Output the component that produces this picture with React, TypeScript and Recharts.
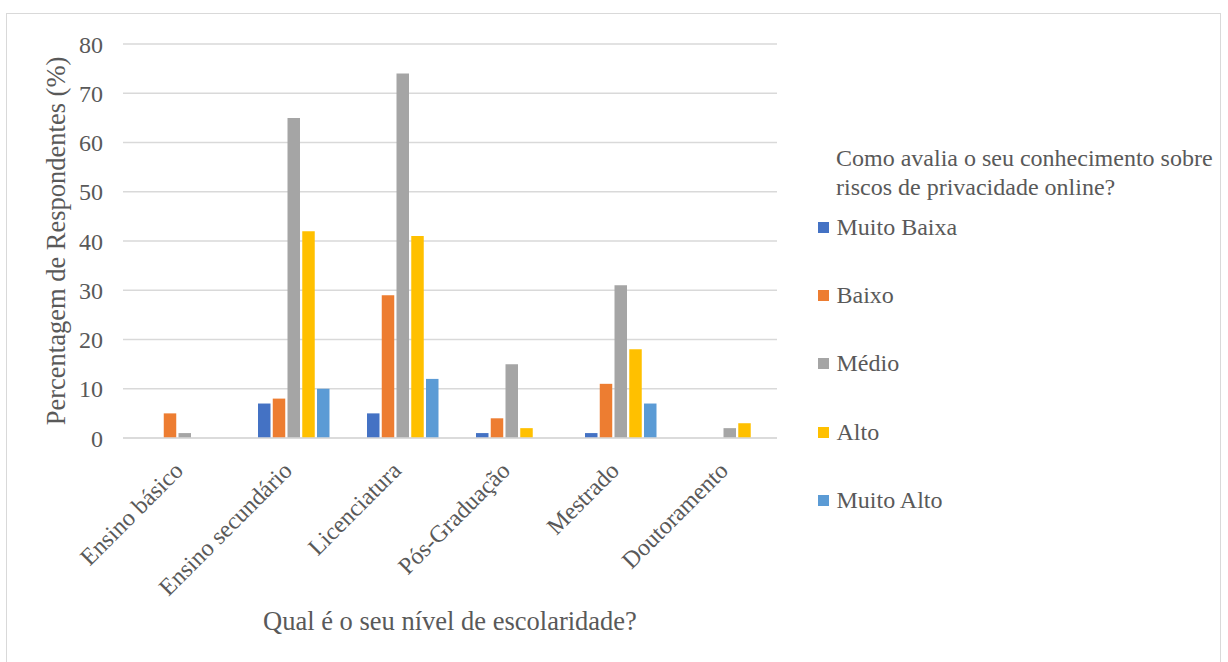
import React from 'react';
import { BarChart, Bar, XAxis, YAxis, CartesianGrid, Legend, Label } from 'recharts';

const CATEGORIES = ['Ensino básico', 'Ensino secundário', 'Licenciatura', 'Pós-Graduação', 'Mestrado', 'Doutoramento'];
const SERIES = ['Muito Baixa', 'Baixo', 'Médio', 'Alto', 'Muito Alto'];
const COLORS = ['#4472C4', '#ED7D31', '#A5A5A5', '#FFC000', '#5B9BD5'];

const MUITO_BAIXA = [0, 7, 5, 1, 1, 0];
const BAIXO = [5, 8, 29, 4, 11, 0];
const MEDIO = [1, 65, 74, 15, 31, 2];
const ALTO = [0, 42, 41, 2, 18, 3];
const MUITO_ALTO = [0, 10, 12, 0, 7, 0];

const Y_TICKS = [0, 10, 20, 30, 40, 50, 60, 70, 80];
const LEGEND_TITLE = ['Como avalia o seu conhecimento sobre', 'riscos de privacidade online?'];
const X_TITLE = 'Qual é o seu nível de escolaridade?';
const Y_TITLE = 'Percentagem de Respondentes (%)';

const VALUES = [MUITO_BAIXA, BAIXO, MEDIO, ALTO, MUITO_ALTO];
const data = CATEGORIES.map((name, i) => {
  const row: Record<string, string | number> = { name };
  SERIES.forEach((s, j) => {
    row[s] = VALUES[j][i];
  });
  return row;
});

const FONT = '"Liberation Serif", "Times New Roman", serif';
const TEXT = '#595959';
const GRID = '#d9d9d9';

const XTick = (props: any) => {
  const { x, y, payload } = props;
  const tx = x;
  const ty = y + 26;
  return (
    <text
      x={tx}
      y={ty}
      transform={`rotate(-45 ${tx} ${ty})`}
      textAnchor="end"
      fill={TEXT}
      fontFamily={FONT}
      fontSize={24}
    >
      {payload.value}
    </text>
  );
};

const LegendBox = () => (
  <div style={{ fontFamily: FONT, color: TEXT, fontSize: 24, lineHeight: '29px' }}>
    <div style={{ paddingLeft: 18, whiteSpace: 'nowrap' }}>
      {LEGEND_TITLE.map((l) => (
        <div key={l}>{l}</div>
      ))}
    </div>
    {SERIES.map((s, i) => (
      <div
        key={s}
        style={{ display: 'flex', alignItems: 'center', marginTop: i === 0 ? 11 : 39.4, height: 29 }}
      >
        <span style={{ width: 11, height: 11, background: COLORS[i], marginRight: 7.5, display: 'inline-block' }} />
        <span>{s}</span>
      </div>
    ))}
  </div>
);

export default function App() {
  return (
    <div
      style={{
        position: 'absolute',
        left: 6,
        top: 13,
        width: 1213,
        height: 660,
        border: `1px solid ${GRID}`,
        background: '#fff',
      }}
    >
      <BarChart
        width={1213}
        height={650}
        data={data}
        margin={{ top: 30, right: 443, left: 0, bottom: 0 }}
        barSize={12.5}
        barGap={2.25}
      >
        <CartesianGrid vertical={false} stroke={GRID} strokeWidth={1.3} />
        <XAxis
          dataKey="name"
          height={226}
          padding={{ left: 7, right: -7 }}
          axisLine={{ stroke: GRID, strokeWidth: 1.5 }}
          tickLine={false}
          interval={0}
          tick={<XTick />}
        >
          <Label
            content={(p: any) => {
              const vb = p.viewBox;
              return (
                <text
                  x={vb.x + vb.width / 2}
                  y={607}
                  textAnchor="middle"
                  dominantBaseline="central"
                  fill={TEXT}
                  fontFamily={FONT}
                  fontSize={26.5}
                >
                  {X_TITLE}
                </text>
              );
            }}
          />
        </XAxis>
        <YAxis
          width={116}
          domain={[0, 80]}
          ticks={Y_TICKS}
          axisLine={false}
          tickLine={false}
          tickSize={0}
          tickMargin={20}
          tick={{ fill: TEXT, fontFamily: FONT, fontSize: 24 }}
        >
          <Label
            content={(p: any) => {
              const vb = p.viewBox;
              const cx = 49;
              const cy = vb.y + vb.height / 2;
              return (
                <text
                  x={cx}
                  y={cy}
                  transform={`rotate(-90 ${cx} ${cy})`}
                  textAnchor="middle"
                  dominantBaseline="central"
                  fill={TEXT}
                  fontFamily={FONT}
                  fontSize={26.5}
                >
                  {Y_TITLE}
                </text>
              );
            }}
          />
        </YAxis>
        <Legend
          layout="vertical"
          align="center"
          verticalAlign="middle"
          content={<LegendBox />}
          wrapperStyle={{ left: 811, top: 129.5, width: 400 }}
        />
        {SERIES.map((s, i) => (
          <Bar key={s} dataKey={s} fill={COLORS[i]} isAnimationActive={false} />
        ))}
      </BarChart>
    </div>
  );
}
